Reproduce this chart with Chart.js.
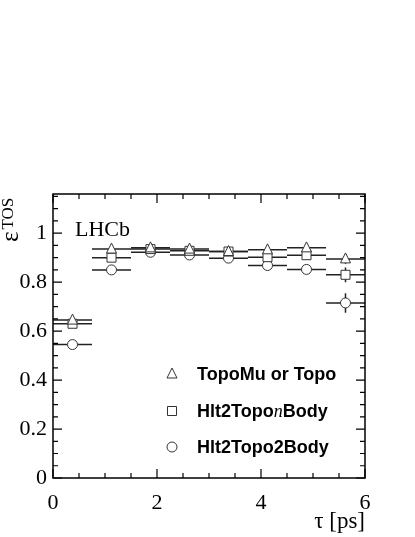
<!DOCTYPE html>
<html>
<head>
<meta charset="utf-8">
<script src="https://cdn.jsdelivr.net/npm/chart.js@4.4.0/dist/chart.umd.min.js"></script>
<style>
  html, body { margin: 0; padding: 0; background: #fff; }
  canvas { display: block; }
</style>
</head>
<body>
<canvas id="effChart" width="415" height="537"></canvas>
<script>
// tau bins [ps]
const binEdges = [0, 0.75, 1.5, 2.25, 3.0, 3.75, 4.5, 5.25, 6.0];

// TOS efficiency per bin
const effTopoMuOrTopo = [0.645, 0.935, 0.940, 0.935, 0.925, 0.932, 0.940, 0.895];
const errTopoMuOrTopo = [0.008, 0.005, 0.004, 0.004, 0.005, 0.006, 0.008, 0.020];
const effHlt2TopoNBody = [0.630, 0.900, 0.935, 0.928, 0.925, 0.902, 0.910, 0.830];
const errHlt2TopoNBody = [0.008, 0.006, 0.004, 0.005, 0.005, 0.007, 0.010, 0.030];
const effHlt2Topo2Body = [0.545, 0.850, 0.922, 0.911, 0.898, 0.868, 0.852, 0.715];
const errHlt2Topo2Body = [0.009, 0.007, 0.005, 0.005, 0.006, 0.008, 0.015, 0.040];

const xTickValues = [0, 2, 4, 6];
const xTickLabels = ['0', '2', '4', '6'];
const yTickValues = [0, 0.2, 0.4, 0.6, 0.8, 1.0];
const yTickLabels = ['0', '0.2', '0.4', '0.6', '0.8', '1'];

const serif = "'Liberation Serif', 'DejaVu Serif', serif";
const sans = "'Liberation Sans', Arial, sans-serif";

function makePoints(eff, err) {
    return eff.map((v, i) => ({
        x: (binEdges[i] + binEdges[i + 1]) / 2,
        y: v,
        xLo: binEdges[i],
        xHi: binEdges[i + 1],
        yErr: err[i]
    }));
}

const series = [
    { label: 'TopoMu or Topo', style: 'triangle', eff: effTopoMuOrTopo, err: errTopoMuOrTopo },
    { label: 'Hlt2TopoBody', style: 'rect', eff: effHlt2TopoNBody, err: errHlt2TopoNBody },
    { label: 'Hlt2Topo2Body', style: 'circle', eff: effHlt2Topo2Body, err: errHlt2Topo2Body }
];

function drawMarker(ctx, style, x, y) {
    ctx.save();
    ctx.fillStyle = '#fff';
    ctx.strokeStyle = '#333';
    ctx.lineWidth = 1;
    ctx.beginPath();
    if (style === 'triangle') {
        ctx.moveTo(x, y - 6);
        ctx.lineTo(x + 5, y + 4);
        ctx.lineTo(x - 5, y + 4);
        ctx.closePath();
    } else if (style === 'rect') {
        ctx.rect(x - 4.5, y - 4.5, 9, 9);
    } else {
        ctx.arc(x, y, 5, 0, Math.PI * 2);
    }
    ctx.fill();
    ctx.stroke();
    ctx.restore();
}

// horizontal bin bars + vertical error bars, under the markers
const errorBars = {
    id: 'errorBars',
    beforeDatasetsDraw(chart) {
        const ctx = chart.ctx;
        const xs = chart.scales.x, ys = chart.scales.y;
        ctx.save();
        ctx.strokeStyle = '#222';
        ctx.lineWidth = 1.5;
        chart.data.datasets.forEach(ds => {
            ds.data.forEach(p => {
                const py = ys.getPixelForValue(p.y);
                const px = xs.getPixelForValue(p.x);
                ctx.beginPath();
                ctx.moveTo(xs.getPixelForValue(p.xLo), py);
                ctx.lineTo(xs.getPixelForValue(p.xHi), py);
                ctx.moveTo(px, ys.getPixelForValue(p.y - p.yErr));
                ctx.lineTo(px, ys.getPixelForValue(p.y + p.yErr));
                ctx.stroke();
            });
        });
        ctx.restore();
    },
    afterDatasetsDraw(chart) {
        const ctx = chart.ctx;
        const xs = chart.scales.x, ys = chart.scales.y;
        for (let i = chart.data.datasets.length - 1; i >= 0; i--) {
            const ds = chart.data.datasets[i];
            ds.data.forEach(p => {
                drawMarker(ctx, ds.markerStyle, xs.getPixelForValue(p.x), ys.getPixelForValue(p.y));
            });
        }
    }
};

// ROOT style frame with inward ticks, titles, legend
const decorations = {
    id: 'decorations',
    afterDraw(chart) {
        const ctx = chart.ctx;
        const a = chart.chartArea;
        const xs = chart.scales.x, ys = chart.scales.y;
        ctx.save();
        ctx.strokeStyle = '#000';
        ctx.lineWidth = 1.5;
        ctx.strokeRect(a.left, a.top, a.right - a.left, a.bottom - a.top);

        ctx.lineWidth = 1.2;
        ctx.beginPath();
        for (let v = 0; v <= 6.001; v += 0.5) {
            const px = xs.getPixelForValue(v);
            const len = Math.abs(v % 2) < 1e-6 ? 9 : 5;
            ctx.moveTo(px, a.bottom); ctx.lineTo(px, a.bottom - len);
            ctx.moveTo(px, a.top); ctx.lineTo(px, a.top + len);
        }
        for (let v = 0; v <= 1.16; v += 0.05) {
            const py = ys.getPixelForValue(v);
            const k = Math.round(v / 0.05);
            const len = k % 4 === 0 ? 9 : 5;
            ctx.moveTo(a.left, py); ctx.lineTo(a.left + len, py);
            ctx.moveTo(a.right, py); ctx.lineTo(a.right - len, py);
        }
        ctx.stroke();

        ctx.fillStyle = '#000';
        // LHCb label
        ctx.font = '22px ' + serif;
        ctx.textAlign = 'left';
        ctx.textBaseline = 'alphabetic';
        ctx.fillText('LHCb', 75, 236);

        // x title
        ctx.font = '23px ' + serif;
        ctx.textAlign = 'right';
        ctx.fillText('\u03c4 [ps]', a.right, 528);

        // y title, rotated
        ctx.save();
        ctx.translate(18, 242);
        ctx.rotate(-Math.PI / 2);
        ctx.textAlign = 'left';
        ctx.font = '25px ' + serif;
        ctx.fillText('\u03b5', 0, 0);
        const epsW = ctx.measureText('\u03b5').width;
        ctx.font = '17px ' + serif;
        ctx.fillText('TOS', epsW + 2, -5);
        ctx.restore();

        // legend
        const rows = [374, 411, 447];
        ctx.textAlign = 'left';
        ctx.textBaseline = 'middle';
        chart.data.datasets.forEach((ds, i) => {
            drawMarker(ctx, ds.markerStyle, 172, rows[i]);
            let x = 197;
            const y = rows[i] + 1;
            if (ds.markerStyle === 'rect') {
                ctx.font = 'bold 18px ' + sans;
                ctx.fillText('Hlt2Topo', x, y);
                x += ctx.measureText('Hlt2Topo').width;
                ctx.font = 'italic 18px ' + serif;
                ctx.fillText('n', x, y);
                x += ctx.measureText('n').width;
                ctx.font = 'bold 18px ' + sans;
                ctx.fillText('Body', x, y);
            } else {
                ctx.font = 'bold 18px ' + sans;
                ctx.fillText(ds.label, x, y);
            }
        });
        ctx.restore();
    }
};

new Chart(document.getElementById('effChart'), {
    type: 'scatter',
    data: {
        datasets: series.map(s => ({
            label: s.label,
            markerStyle: s.style,
            data: makePoints(s.eff, s.err),
            pointRadius: 0,
            pointHoverRadius: 0,
            showLine: false
        }))
    },
    options: {
        responsive: false,
        animation: false,
        layout: { padding: { top: 194, right: 50, bottom: 14, left: 0 } },
        plugins: {
            legend: { display: false },
            tooltip: { enabled: false }
        },
        scales: {
            x: {
                type: 'linear',
                min: 0,
                max: 6,
                afterBuildTicks: scale => { scale.ticks = xTickValues.map(v => ({ value: v })); },
                afterFit: scale => { scale.height = 45; },
                grid: { display: false, drawTicks: false },
                border: { display: false },
                ticks: {
                    autoSkip: false,
                    maxRotation: 0,
                    padding: 12,
                    color: '#000',
                    font: { family: serif, size: 22 },
                    callback: (v) => xTickLabels[xTickValues.indexOf(v)]
                }
            },
            y: {
                type: 'linear',
                min: 0,
                max: 1.16,
                afterBuildTicks: scale => { scale.ticks = yTickValues.map(v => ({ value: v })); },
                afterFit: scale => { scale.width = 53; },
                grid: { display: false, drawTicks: false },
                border: { display: false },
                ticks: {
                    autoSkip: false,
                    padding: 6,
                    color: '#000',
                    font: { family: serif, size: 22 },
                    callback: (v) => yTickLabels[yTickValues.findIndex(t => Math.abs(t - v) < 1e-6)]
                }
            }
        }
    },
    plugins: [errorBars, decorations]
});
</script>
</body>
</html>
